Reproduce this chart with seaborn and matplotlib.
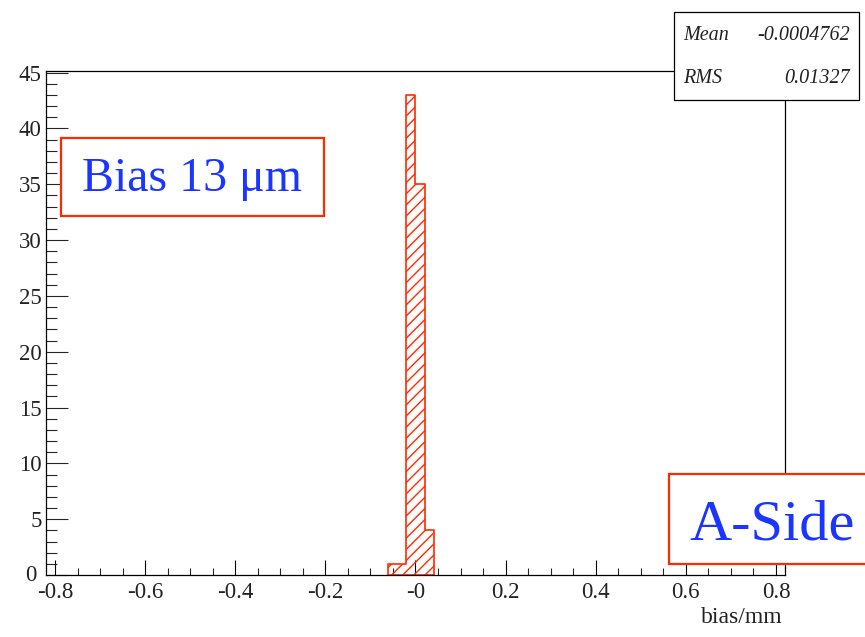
import numpy as np
import pandas as pd
import matplotlib
matplotlib.use("Agg")
import matplotlib.pyplot as plt
import seaborn as sns
from matplotlib.patches import Rectangle
from matplotlib.transforms import ScaledTranslation
from matplotlib.ticker import FixedLocator, FixedFormatter, MultipleLocator

# ---- data ----
bin_centers = [-0.05, -0.03, -0.01, 0.01, 0.03]
counts = [1, 1, 43, 35, 4]
bin_width = 0.02
x_ticks = [-0.8, -0.6, -0.4, -0.2, 0.0, 0.2, 0.4, 0.6, 0.8]
x_tick_labels = ["-0.8", "-0.6", "-0.4", "-0.2", "-0", "0.2", "0.4", "0.6", "0.8"]
y_ticks = [0, 5, 10, 15, 20, 25, 30, 35, 40, 45]
stats_names = ["Mean", "RMS"]
stats_values = ["-0.0004762", "0.01327"]
x_label = "bias/mm"
bias_text = "Bias 13 μm"
side_text = "A-Side"

RED = "#ff2a00"
BLUE = "#1a35ff"

sns.set_style("white")
plt.rcParams["font.family"] = ["Liberation Serif", "DejaVu Serif"]
plt.rcParams["hatch.linewidth"] = 1.0

W, H = 865, 637
fig = plt.figure(figsize=(W / 100, H / 100), dpi=100)
ax = fig.add_axes([46 / W, 1 - 575 / H, 739 / W, 504 / H])

df = pd.DataFrame({"bias": bin_centers, "n": counts})
lo = round(min(bin_centers) - bin_width / 2, 4)
hi = round(max(bin_centers) + bin_width / 2, 4)
sns.histplot(data=df, x="bias", weights="n", binwidth=bin_width, binrange=(lo, hi),
             element="step", fill=True, color=RED, linewidth=1.2, ax=ax)
for coll in ax.collections:
    coll.set_facecolor("none")
    coll.set_edgecolor(RED)
    coll.set_hatch("///")
    coll.set_linewidth(1.2)
    coll.set_alpha(1)

ax.set_xlim(-0.82, 0.82)
ax.set_ylim(0, 45.15)

ax.xaxis.set_major_locator(FixedLocator(x_ticks))
ax.xaxis.set_major_formatter(FixedFormatter(x_tick_labels))
ax.xaxis.set_minor_locator(MultipleLocator(0.05))
ax.yaxis.set_major_locator(FixedLocator(y_ticks))
ax.yaxis.set_minor_locator(MultipleLocator(1))

ax.tick_params(axis="x", which="major", direction="in", length=10.8, width=0.8,
               labelsize=16.5, pad=5, top=False, bottom=True, colors="black")
ax.tick_params(axis="x", which="minor", direction="in", length=5.4, width=0.8,
               top=False, bottom=True)
ax.tick_params(axis="y", which="major", direction="in", length=15.8, width=0.8,
               labelsize=16.5, pad=3, left=True, right=False)
ax.tick_params(axis="y", which="minor", direction="in", length=7.9, width=0.8,
               left=True, right=False)
for lab in ax.get_xticklabels() + ax.get_yticklabels():
    lab.set_color("#222222")

for s in ax.spines.values():
    s.set_color("black")
    s.set_linewidth(0.9)
    s.set_zorder(3)

ax.set_ylabel("")
ax.set_xlabel(x_label, fontsize=17, color="#222222", ha="right")
ax.xaxis.set_label_coords((783 - 46) / 739, -0.064)

# stats box
fig.add_artist(Rectangle((674 / W, 1 - 100 / H), (859 - 674) / W, 88 / H,
                         transform=fig.transFigure, facecolor="white",
                         edgecolor="black", linewidth=0.9, zorder=5))
for i, (nm, val) in enumerate(zip(stats_names, stats_values)):
    yb = 1 - (40 + i * 43) / H
    fig.text(683 / W, yb, nm, fontsize=14.5, style="italic", ha="left", va="baseline",
             color="#222222", zorder=6)
    fig.text(850 / W, yb, val, fontsize=14.5, style="italic", ha="right", va="baseline",
             color="#222222", zorder=6)

# Bias box
fig.add_artist(Rectangle((61 / W, 1 - 216 / H), (324 - 61) / W, 78 / H,
                         transform=fig.transFigure, facecolor="white",
                         edgecolor=RED, linewidth=1.6, zorder=5))
fig.text(192 / W, 1 - 191 / H, bias_text, fontsize=34.5, color=BLUE,
         ha="center", va="baseline", zorder=6)

# A-Side box
fig.add_artist(Rectangle((669 / W, 1 - 564 / H), (890 - 669) / W, 90 / H,
                         transform=fig.transFigure, facecolor="white",
                         edgecolor=RED, linewidth=1.6, zorder=5))
fig.text(772 / W, 1 - 539 / H, side_text, fontsize=42, color=BLUE,
         ha="center", va="baseline", zorder=6)

# nudge the y "0" label slightly left, as in the reference
fig.canvas.draw()
zero_lab = ax.yaxis.get_major_ticks()[0].label1
zero_lab.set_transform(zero_lab.get_transform() + ScaledTranslation(-0.05, 0.02, fig.dpi_scale_trans))

fig.savefig("out.png", dpi=100)
